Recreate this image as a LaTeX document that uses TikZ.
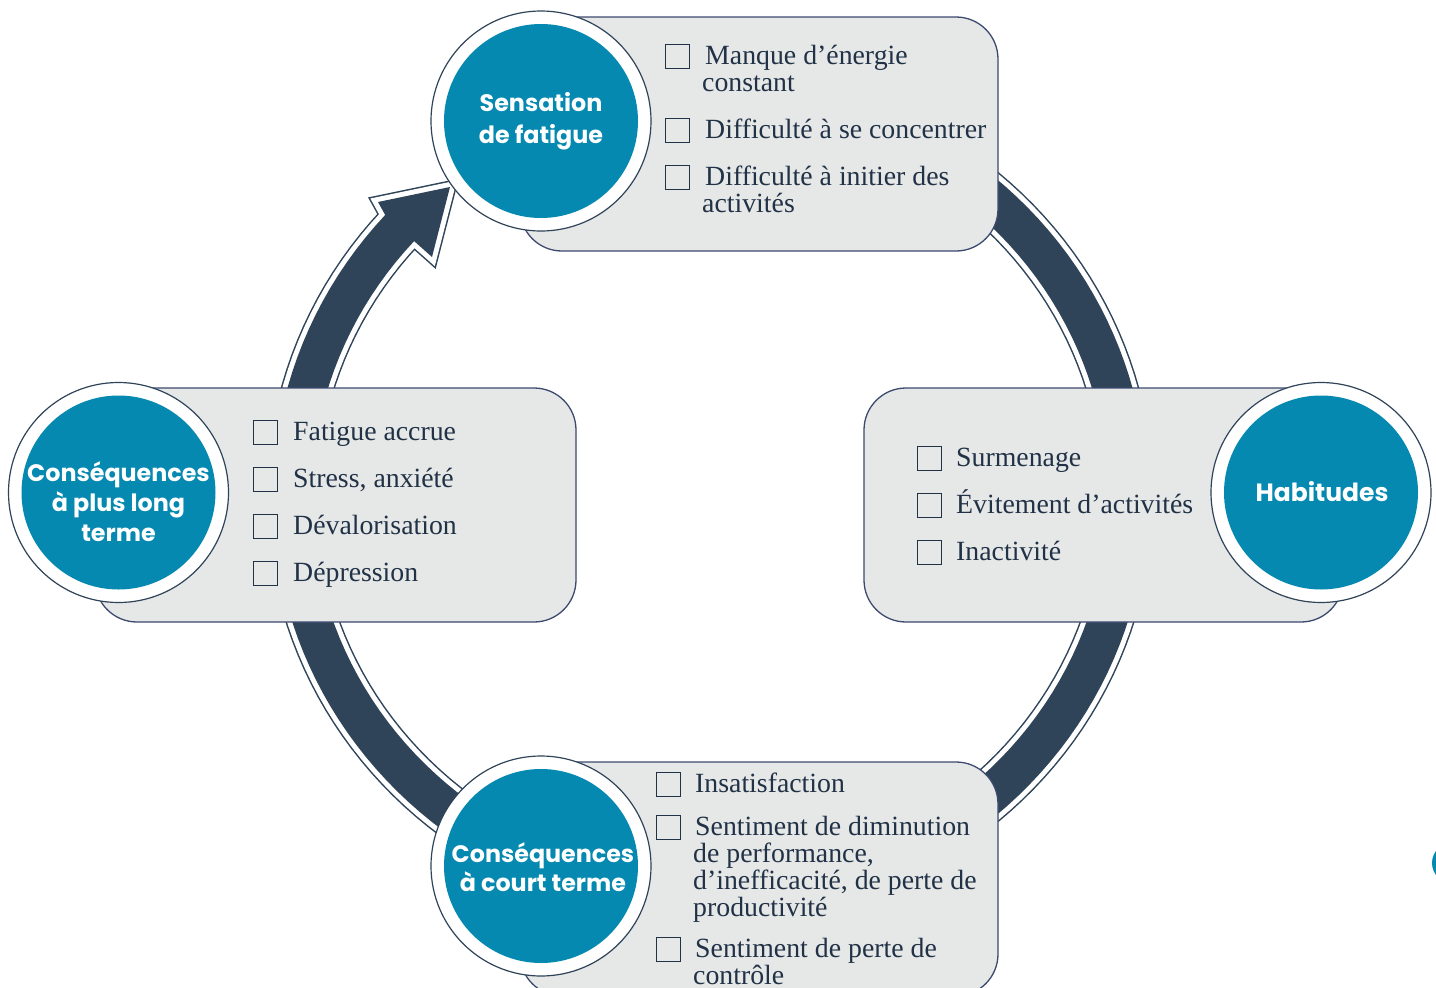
\documentclass[tikz,border=0pt]{standalone}
\usepackage{fontspec}
\setmainfont{Liberation Serif}
\newfontfamily\circfont{Poppins}
\definecolor{tealc}{RGB}{5,137,176}
\definecolor{navy}{RGB}{47,68,89}
\definecolor{boxfill}{RGB}{230,231,231}
\definecolor{boxline}{RGB}{60,74,110}
\definecolor{txt}{RGB}{33,50,70}
\begin{document}
\begin{tikzpicture}[x=1pt,y=-1pt,
  panel/.style={draw=boxline, line width=1.3pt, fill=boxfill, rounded corners=42pt, inner sep=0pt},
  outerc/.style={circle, draw=navy, line width=1.2pt, fill=white, minimum size=220pt, inner sep=0pt},
  innerc/.style={circle, fill=tealc, minimum size=194pt, inner sep=0pt},
  ctext/.style={text=white, font=\circfont\bfseries\fontsize{23.8}{30}\selectfont, align=center, inner sep=0pt},
  chk/.style={draw=txt, line width=1.4pt, minimum size=24pt, inner sep=0pt},
  item/.style={text=txt, font=\fontsize{27.8}{27}\selectfont, anchor=base west, inner sep=0pt},
  band/.style={fill=navy, line join=miter,
    preaction={draw=navy, line width=13pt, line join=miter},
    preaction={draw=white, line width=10pt, line join=miter}}
]
\useasboundingbox (0,0) rectangle (1436,988);
\fill[white] (0,0) rectangle (1436,988);

% ring with arrowhead
\path[band] plot[domain=-105:222.06, samples=160] ({710+437.5*cos(\x)},{497+421*sin(\x)})
  -- (378,202) -- (450,187) -- (432,257)
  -- plot[domain=222.06:-105, samples=160] ({710+398.5*cos(\x)},{497+382*sin(\x)}) -- cycle;

% stray partial circle at right edge
\fill[tealc] (1452,863) circle (20);

% panels
\node[panel, minimum width=478pt, minimum height=234pt] (p1) at (759,134) {};
\node[panel, minimum width=481pt, minimum height=234pt] (p2) at (335.5,505) {};
\node[panel, minimum width=479pt, minimum height=234pt] (p3) at (1103.5,505) {};
\node[panel, minimum width=478pt, minimum height=234pt] (p4) at (759,879) {};

% top panel items
\node[chk] (k1) at (677.5,56.5) {};
\node[item] (t1a) at (705,64) {Manque d’énergie};
\node[item] (t1b) at (702,91) {constant};
\node[chk] (k2) at (677.5,130.5) {};
\node[item] (t2a) at (705,138) {Difficulté à se concentrer};
\node[chk] (k3) at (677.5,177.5) {};
\node[item] (t3a) at (705,185) {Difficulté à initier des};
\node[item] (t3b) at (702,212) {activités};

% left panel items
\node[chk] (k4) at (265.5,432.5) {};
\node[item] (t4) at (293,440) {Fatigue accrue};
\node[chk] (k5) at (265.5,479.5) {};
\node[item] (t5) at (293,487) {Stress, anxiété};
\node[chk] (k6) at (265.5,526.5) {};
\node[item] (t6) at (293,534) {Dévalorisation};
\node[chk] (k7) at (265.5,573.5) {};
\node[item] (t7) at (293,581) {Dépression};

% right panel items
\node[chk] (k8) at (929.5,458.5) {};
\node[item] (t8) at (956,466) {Surmenage};
\node[chk] (k9) at (929.5,505.5) {};
\node[item] (t9) at (956,513) {Évitement d’activités};
\node[chk] (k10) at (929.5,552.5) {};
\node[item] (t10) at (956,560) {Inactivité};

% bottom panel items
\node[chk] (k11) at (668.5,784.5) {};
\node[item] (t11) at (695,792) {Insatisfaction};
\node[chk] (k12) at (668.5,827.5) {};
\node[item] (t12a) at (695,835) {Sentiment de diminution};
\node[item] (t12b) at (693,862) {de performance,};
\node[item] (t12c) at (693,889) {d’inefficacité, de perte de};
\node[item] (t12d) at (693,916) {productivité};
\node[chk] (k13) at (668.5,949.5) {};
\node[item] (t13a) at (695,957) {Sentiment de perte de};
\node[item] (t13b) at (693,984) {contrôle};

% circles
\node[outerc] (c1o) at (541,121) {};
\node[innerc] (c1) at (541,121) {};
\node[ctext, font=\circfont\bfseries\fontsize{23.8}{32}\selectfont] (c1t) at (541,121.5) {Sensation\\de fatigue};

\node[outerc] (c2o) at (118.5,492.5) {};
\node[innerc] (c2) at (118.5,492.5) {};
\node[ctext] (c2t) at (118.5,502) {Conséquences\\à plus long\\terme};

\node[outerc] (c3o) at (1321,492.5) {};
\node[innerc] (c3) at (1321,492.5) {};
\node[ctext, font=\circfont\bfseries\fontsize{25}{30}\selectfont] (c3t) at (1322,492) {Habitudes};

\node[outerc] (c4o) at (541,866) {};
\node[innerc] (c4) at (541,866) {};
\node[ctext, font=\circfont\bfseries\fontsize{23.8}{29}\selectfont] (c4t) at (543,867) {Conséquences\\à court terme};
\end{tikzpicture}
\end{document}
